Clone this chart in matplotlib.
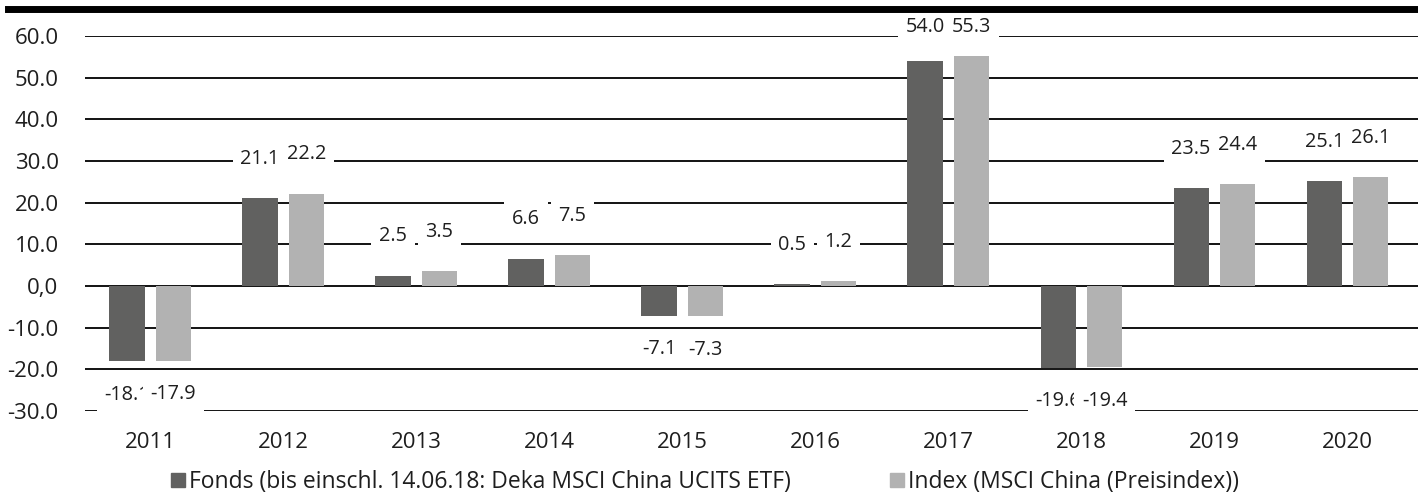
import numpy as np
import matplotlib.pyplot as plt
from matplotlib.patches import Patch
from matplotlib.lines import Line2D

plt.rcParams['font.family'] = ['Open Sans', 'DejaVu Sans']

years = ['2011', '2012', '2013', '2014', '2015', '2016', '2017', '2018', '2019', '2020']
fonds = [-18.1, 21.1, 2.5, 6.6, -7.1, 0.5, 54.0, -19.6, 23.5, 25.1]
index = [-17.9, 22.2, 3.5, 7.5, -7.3, 1.2, 55.3, -19.4, 24.4, 26.1]
yticks = [-30, -20, -10, 0, 10, 20, 30, 40, 50, 60]
ytick_labels = ['-30.0', '-20.0', '-10.0', '0,0', '10.0', '20.0', '30.0', '40.0', '50.0', '60.0']
fonds_label = 'Fonds (bis einschl. 14.06.18: Deka MSCI China UCITS ETF)'
index_label = 'Index (MSCI China (Preisindex))'

c_fonds = '#616160'
c_index = '#b2b2b2'
c_text = '#1e1e1e'

fig = plt.figure(figsize=(14.18, 4.97), dpi=100)
ax = fig.add_axes([85 / 1418, 1 - 411 / 497, 1 - 85 / 1418, 375 / 497])

x = np.arange(len(years))
w = 0.265
ax.bar(x - 0.175, fonds, w, color=c_fonds, zorder=2)
ax.bar(x + 0.175, index, w, color=c_index, zorder=2)

for yv in yticks:
    ax.axhline(yv, color='black', lw=1.3, zorder=1)

# value labels (baseline positions), white boxes hide the grid
for i in range(len(years)):
    for val, dx, z in ((fonds[i], -0.175, 3), (index[i], 0.175, 4)):
        if val >= 0:
            ly = min(val + 8.2, 61.0)
        else:
            ly = val - 9.3
        ax.text(x[i] + dx, ly, f'{val:.1f}', ha='center', va='baseline',
                fontsize=14.3, color=c_text, zorder=z,
                bbox=dict(boxstyle='square,pad=0.38', fc='white', ec='none'))

ax.set_xlim(-0.49, 9.53)
ax.set_ylim(-30, 60)
ax.set_xticks(x)
ax.set_xticklabels(years, fontsize=16, color=c_text)
ax.set_yticks(yticks)
ax.set_yticklabels(ytick_labels, fontsize=16, color=c_text)
ax.tick_params(axis='both', length=0)
ax.tick_params(axis='x', pad=15)
ax.tick_params(axis='y', pad=19)
for s in ax.spines.values():
    s.set_visible(False)

# thick line at the top
fig.add_artist(Line2D([8 / 1418, 1], [1 - 8.5 / 497] * 2, color='black', lw=5,
                      transform=fig.transFigure))

handles = [Patch(color=c_fonds, label=fonds_label), Patch(color=c_index, label=index_label)]
fig.legend(handles=handles, loc='center', bbox_to_anchor=(705 / 1418, 1 - 482 / 497),
           ncol=2, frameon=False, fontsize=16.5, handlelength=0.62, handleheight=0.62,
           handletextpad=0.2, columnspacing=4.3, borderpad=0, labelcolor=c_text)

fig.savefig('out.png', dpi=100)
